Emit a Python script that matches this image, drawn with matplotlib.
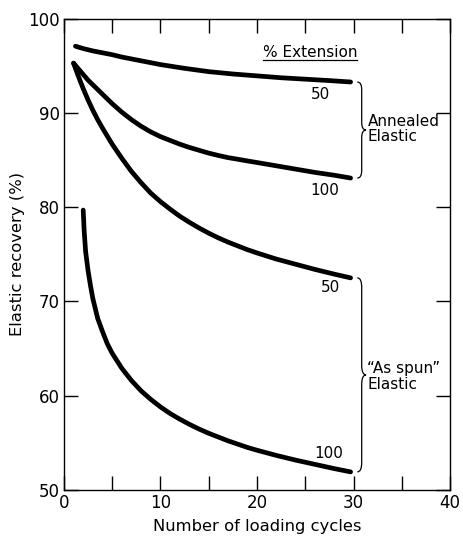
import matplotlib
matplotlib.use("Agg")
import matplotlib.pyplot as plt
import matplotlib.ticker as mticker
from matplotlib.path import Path
from matplotlib.patches import PathPatch

# Annealed elastic
ann50_cycles = [1.2, 2, 3, 4, 5, 6, 7.5, 10, 12.5, 15, 17.5, 20, 22.5, 25, 27.5, 29.7]
ann50_recovery = [97.1, 96.85, 96.6, 96.4, 96.2, 95.95, 95.65, 95.15, 94.75, 94.4, 94.15, 93.95,
                  93.75, 93.6, 93.45, 93.3]

ann100_cycles = [1, 1.5, 2, 2.5, 3, 3.5, 4, 5, 6, 7, 8, 9, 10, 11, 12, 13, 14, 15, 16, 17, 18,
                 19, 20, 22, 24, 26, 28, 29.7]
ann100_recovery = [95.3, 94.7, 94.1, 93.5, 93.0, 92.5, 92.0, 91.0, 90.1, 89.3, 88.6, 88.0, 87.5,
                   87.1, 86.7, 86.35, 86.05, 85.75, 85.5, 85.27, 85.1, 84.92, 84.75, 84.4, 84.05,
                   83.7, 83.4, 83.1]

# "As spun" elastic
spun50_cycles = [1, 1.5, 2, 2.5, 3, 3.5, 4, 5, 6, 7, 8, 9, 10, 11, 12, 13, 14, 15, 16, 17, 18,
                 19, 20, 22, 24, 26, 28, 29.7]
spun50_recovery = [95.3, 93.9, 92.6, 91.4, 90.3, 89.3, 88.4, 86.7, 85.2, 83.8, 82.6, 81.5, 80.6,
                   79.8, 79.05, 78.4, 77.8, 77.25, 76.75, 76.3, 75.9, 75.5, 75.15, 74.5, 73.95,
                   73.4, 72.9, 72.5]

spun100_cycles = [2, 2.1, 2.25, 2.5, 2.75, 3, 3.5, 4, 4.5, 5, 5.5, 6, 7, 8, 9, 10, 11, 12, 13,
                  14, 15, 16, 17, 18, 19, 20, 22, 24, 26, 28, 29.7]
spun100_recovery = [79.7, 77.5, 75.3, 73.3, 71.7, 70.3, 68.2, 66.8, 65.5, 64.5, 63.7, 62.9, 61.6,
                    60.5, 59.6, 58.8, 58.1, 57.5, 56.95, 56.45, 56.0, 55.6, 55.2, 54.85, 54.5,
                    54.2, 53.65, 53.15, 52.7, 52.25, 51.9]

curve_labels = [("50", 26.6, 92.0), ("100", 27.0, 81.8), ("50", 27.6, 71.5), ("100", 27.4, 53.9)]

plt.rcParams["font.family"] = ["DejaVu Sans"]
plt.rcParams["font.size"] = 11


def curly_brace(ax, x, y0, y1, width=1.0, lw=0.9):
    """Right-pointing curly brace from y0 (bottom) to y1 (top) at x."""
    ym = (y0 + y1) / 2
    q = min(0.08 * (y1 - y0), 1.0)
    xm = x + width * 0.5
    verts = [
        (x, y1), (xm, y1), (xm, y1 - q),
        (xm, ym + q), (xm, ym), (x + width, ym),
        (xm, ym), (xm, ym - q),
        (xm, y0 + q), (xm, y0), (x, y0),
    ]
    codes = [Path.MOVETO, Path.CURVE3, Path.CURVE3,
             Path.LINETO, Path.CURVE3, Path.CURVE3,
             Path.CURVE3, Path.CURVE3,
             Path.LINETO, Path.CURVE3, Path.CURVE3]
    ax.add_patch(PathPatch(Path(verts, codes), fill=False, lw=lw, color="black"))


fig = plt.figure(figsize=(4.63, 5.4), dpi=100)
ax = fig.add_axes([0.138, 0.093, 0.834, 0.872])

for xs, ys in [(ann50_cycles, ann50_recovery), (ann100_cycles, ann100_recovery),
               (spun50_cycles, spun50_recovery), (spun100_cycles, spun100_recovery)]:
    ax.plot(xs, ys, color="black", lw=3.4, solid_capstyle="round", solid_joinstyle="round")

for txt, x, y in curve_labels:
    ax.text(x, y, txt, ha="center", va="center", fontsize=11)

ax.text(25.5, 95.95, "% Extension", ha="center", va="baseline", fontsize=11)
ax.plot([20.6, 30.4], [95.6, 95.6], color="black", lw=0.9)

curly_brace(ax, 30.4, 83.1, 93.3, width=0.9)
curly_brace(ax, 30.4, 51.9, 72.5, width=0.9)
ax.text(31.5, 88.3, "Annealed\nElastic", ha="left", va="center", fontsize=11, linespacing=1.0)
ax.text(31.4, 62.0, "\u201cAs spun\u201d\nElastic", ha="left", va="center", fontsize=11,
        linespacing=1.1)

ax.set_xlim(0, 40)
ax.set_ylim(50, 100)
ax.xaxis.set_major_locator(mticker.MultipleLocator(10))
ax.xaxis.set_minor_locator(mticker.MultipleLocator(5))
ax.yaxis.set_major_locator(mticker.MultipleLocator(10))
ax.tick_params(which="both", direction="in", top=True, right=True, length=10, width=1.0,
               labelsize=12)
ax.tick_params(axis="x", pad=3)
ax.tick_params(axis="y", pad=3)
for s in ax.spines.values():
    s.set_linewidth(1.0)

ax.set_xlabel("Number of loading cycles", fontsize=11.8, labelpad=5)
ax.set_ylabel("Elastic recovery (%)", fontsize=11.8, labelpad=2)

fig.savefig("out.png", dpi=100, facecolor="white")
